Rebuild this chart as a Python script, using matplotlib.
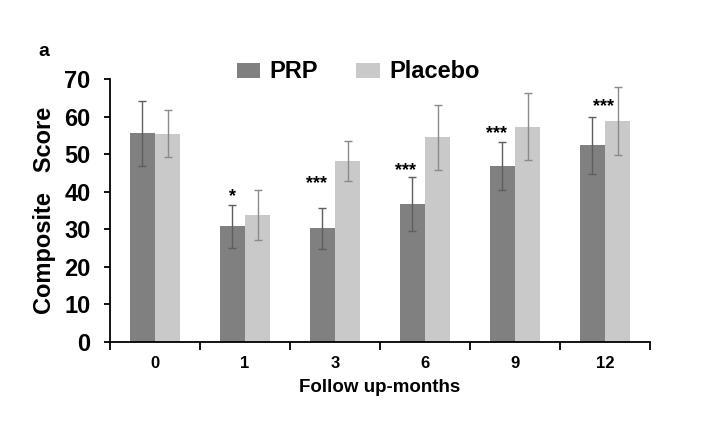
import matplotlib
matplotlib.use('Agg')
import matplotlib.pyplot as plt
import numpy as np

# Composite score per follow-up month
months = ['0', '1', '3', '6', '9', '12']
prp_mean = [55.6, 30.8, 30.3, 36.8, 46.9, 52.4]
prp_err = [8.7, 5.8, 5.5, 7.1, 6.5, 7.6]
placebo_mean = [55.5, 33.9, 48.3, 54.5, 57.4, 58.8]
placebo_err = [6.3, 6.6, 5.3, 8.6, 9.0, 9.1]
stars = ['', '*', '***', '***', '***', '***']

plt.rcParams['font.family'] = ['Liberation Sans', 'DejaVu Sans']
plt.rcParams['font.weight'] = 'bold'

fig = plt.figure(figsize=(7.26, 4.21), dpi=100)
ax = fig.add_axes([110 / 726, 1 - 342 / 421, 540 / 726, (342 - 79.3) / 421])

x = np.arange(len(months))
w = 0.28
ax.bar(x - w / 2, prp_mean, w, color='#808080', label='PRP', zorder=2)
ax.bar(x + w / 2, placebo_mean, w, color='#c9c9c9', label='Placebo', zorder=2)
ax.errorbar(x - w / 2, prp_mean, yerr=prp_err, fmt='none', ecolor='#5e5e5e',
            elinewidth=1, capsize=3, capthick=1, zorder=3)
ax.errorbar(x + w / 2, placebo_mean, yerr=placebo_err, fmt='none',
            ecolor='#8a8a8a', elinewidth=1, capsize=3, capthick=1, zorder=3)

# significance marks above the PRP bars
star_dx = [0, 0, -0.06, -0.08, -0.06, 0.12]
star_pad = [0, 2.2, 6.5, 1.8, 2.0, 2.6]
for i, s in enumerate(stars):
    if s:
        ax.text(x[i] - w / 2 + star_dx[i], prp_mean[i] + prp_err[i] + star_pad[i],
                s, ha='center', va='center', fontsize=13, fontweight='bold')

ax.set_xlim(-0.5, len(months) - 0.5)
ax.set_ylim(0, 70)
ax.set_yticks(np.arange(0, 71, 10))
ax.tick_params(axis='y', labelsize=17, length=4, width=1.3, pad=10)
ax.set_xticks(np.arange(-0.5, len(months), 1))
ax.set_xticklabels([])
ax.set_xticks(x, minor=True)
ax.set_xticklabels(months, minor=True)
ax.tick_params(axis='x', which='major', length=6, width=1.3)
ax.tick_params(axis='x', which='minor', length=0, labelsize=12, pad=10)
for lbl in ax.get_yticklabels() + ax.get_xticklabels(minor=True):
    lbl.set_fontweight('bold')

ax.spines['top'].set_visible(False)
ax.spines['right'].set_visible(False)
ax.spines['left'].set_linewidth(1.3)
ax.spines['bottom'].set_linewidth(1.3)

ax.set_xlabel('Follow up-months', fontsize=13.5, fontweight='bold', labelpad=6)
ax.set_ylabel('Composite   Score', fontsize=17, fontweight='bold', labelpad=6)

fig.legend(loc='center', bbox_to_anchor=(358 / 726, 1 - 72 / 421), ncol=2,
           frameon=False, handlelength=1.0, handleheight=0.6,
           handletextpad=0.4, columnspacing=1.6,
           prop={'weight': 'bold', 'size': 17})

fig.text(38 / 726, 1 - 52 / 421, 'a', fontsize=14, fontweight='bold',
         ha='left', va='center')

fig.savefig('out.png', dpi=100)
